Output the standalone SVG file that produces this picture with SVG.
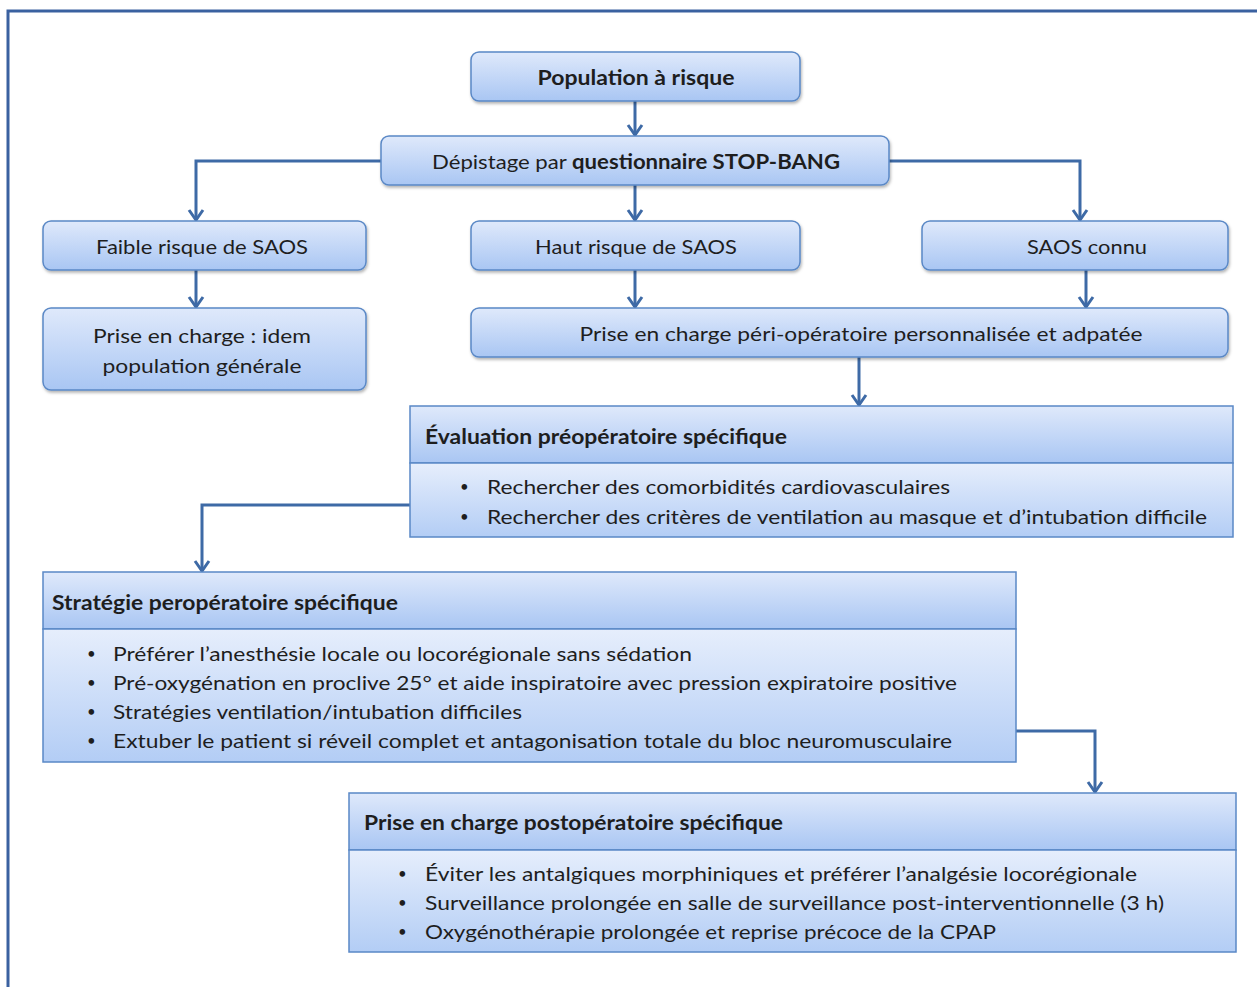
<svg xmlns="http://www.w3.org/2000/svg" width="1257" height="987" viewBox="0 0 1257 987">
<style>
.bg{fill:#ffffff}
.frame{fill:none;stroke:#3a61a0;stroke-width:3}
.rbox{fill:url(#g1);stroke:#5a88c6;stroke-width:1.5;filter:url(#sh)}
.hdr{fill:url(#g1);stroke:#5a88c6;stroke-width:1.5}
.bdy{fill:url(#g2);stroke:#5a88c6;stroke-width:1.5}
.t{font-family:Lato,"Liberation Sans",sans-serif;font-size:20px;fill:#1e1e1e}
.b{font-weight:bold}
.c{text-anchor:middle}
.bul{font-family:Lato,"Liberation Sans",sans-serif;font-size:15px;fill:#1e1e1e}
.conn path{fill:none;stroke:#3e6aa6;stroke-width:3;marker-end:url(#arr)}
</style>
<defs>
<linearGradient id="g1" x1="0" y1="0" x2="0" y2="1">
<stop offset="0" stop-color="#dfe9fb"/>
<stop offset="1" stop-color="#a9c6f3"/>
</linearGradient>
<linearGradient id="g2" x1="0" y1="0" x2="0" y2="1">
<stop offset="0" stop-color="#e6eefc"/>
<stop offset="1" stop-color="#b3cdf5"/>
</linearGradient>
<filter id="sh" x="-5%" y="-20%" width="110%" height="150%">
<feDropShadow dx="1" dy="2" stdDeviation="1.5" flood-color="#000" flood-opacity="0.3"/>
</filter>
<marker id="arr" markerUnits="userSpaceOnUse" viewBox="-2 -2 14 18" markerWidth="14" markerHeight="18" refX="10" refY="7" orient="auto">
<path d="M0,0 L10,7 L0,14" fill="none" stroke="#3e6aa6" stroke-width="3"/>
</marker>
</defs>
<rect class="bg" x="0" y="0" width="1257" height="987"/>
<rect class="frame" x="8" y="11" width="1262" height="990"/>

<g id="connectors" class="conn">
<path d="M635,101 V135"/>
<path d="M381,161 H196 V220"/>
<path d="M635,185 V220"/>
<path d="M889,161 H1080 V220"/>
<path d="M196,270 V307"/>
<path d="M635,270 V307"/>
<path d="M1086,270 V307"/>
<path d="M859,357 V405"/>
<path d="M410,505 H202 V571"/>
<path d="M1016,731 H1095 V792"/>
</g>

<g id="population">
<rect class="rbox" x="471" y="52" width="329" height="49" rx="8"/>
<text class="t b c" x="636" y="77" dominant-baseline="central" textLength="197" lengthAdjust="spacingAndGlyphs">Population à risque</text>
</g>
<g id="depistage">
<rect class="rbox" x="381" y="136" width="508" height="49" rx="8"/>
<text class="t" x="432" y="161" dominant-baseline="central" textLength="408" lengthAdjust="spacingAndGlyphs">Dépistage par <tspan class="b">questionnaire STOP-BANG</tspan></text>
</g>
<g id="faible">
<rect class="rbox" x="43" y="221" width="323" height="49" rx="8"/>
<text class="t c" x="202" y="246" dominant-baseline="central" textLength="212" lengthAdjust="spacingAndGlyphs">Faible risque de SAOS</text>
</g>
<g id="haut">
<rect class="rbox" x="471" y="221" width="329" height="49" rx="8"/>
<text class="t c" x="636" y="246" dominant-baseline="central" textLength="202" lengthAdjust="spacingAndGlyphs">Haut risque de SAOS</text>
</g>
<g id="connu">
<rect class="rbox" x="922" y="221" width="306" height="49" rx="8"/>
<text class="t c" x="1087" y="246" dominant-baseline="central" textLength="120" lengthAdjust="spacingAndGlyphs">SAOS connu</text>
</g>
<g id="idem">
<rect class="rbox" x="43" y="308" width="323" height="82" rx="8"/>
<text class="t c" x="202" y="335" dominant-baseline="central" textLength="218" lengthAdjust="spacingAndGlyphs">Prise en charge : idem</text>
<text class="t c" x="202" y="365" dominant-baseline="central" textLength="199" lengthAdjust="spacingAndGlyphs">population générale</text>
</g>
<g id="pec">
<rect class="rbox" x="471" y="308" width="757" height="49" rx="8"/>
<text class="t c" x="861" y="333" dominant-baseline="central" textLength="563" lengthAdjust="spacingAndGlyphs">Prise en charge péri-opératoire personnalisée et adpatée</text>
</g>

<g id="evaluation">
<rect class="hdr" x="410" y="406" width="823" height="57"/>
<rect class="bdy" x="410" y="463" width="823" height="74"/>
<text class="t b" x="425" y="436" dominant-baseline="central" textLength="362" lengthAdjust="spacingAndGlyphs">Évaluation préopératoire spécifique</text>
<text class="bul" x="460" y="486" dominant-baseline="central">•</text>
<text class="t" x="487" y="486" dominant-baseline="central" textLength="463" lengthAdjust="spacingAndGlyphs">Rechercher des comorbidités cardiovasculaires</text>
<text class="bul" x="460" y="516" dominant-baseline="central">•</text>
<text class="t" x="487" y="516" dominant-baseline="central" textLength="720" lengthAdjust="spacingAndGlyphs">Rechercher des critères de ventilation au masque et d’intubation difficile</text>
</g>

<g id="strategie">
<rect class="hdr" x="43" y="572" width="973" height="57"/>
<rect class="bdy" x="43" y="629" width="973" height="133"/>
<text class="t b" x="52" y="602" dominant-baseline="central" textLength="346" lengthAdjust="spacingAndGlyphs">Stratégie peropératoire spécifique</text>
<text class="bul" x="87" y="653" dominant-baseline="central">•</text>
<text class="t" x="113" y="653" dominant-baseline="central" textLength="579" lengthAdjust="spacingAndGlyphs">Préférer l’anesthésie locale ou locorégionale sans sédation</text>
<text class="bul" x="87" y="682" dominant-baseline="central">•</text>
<text class="t" x="113" y="682" dominant-baseline="central" textLength="844" lengthAdjust="spacingAndGlyphs">Pré-oxygénation en proclive 25° et aide inspiratoire avec pression expiratoire positive</text>
<text class="bul" x="87" y="711" dominant-baseline="central">•</text>
<text class="t" x="113" y="711" dominant-baseline="central" textLength="409" lengthAdjust="spacingAndGlyphs">Stratégies ventilation/intubation difficiles</text>
<text class="bul" x="87" y="740" dominant-baseline="central">•</text>
<text class="t" x="113" y="740" dominant-baseline="central" textLength="839" lengthAdjust="spacingAndGlyphs">Extuber le patient si réveil complet et antagonisation totale du bloc neuromusculaire</text>
</g>

<g id="postop">
<rect class="hdr" x="349" y="793" width="887" height="57"/>
<rect class="bdy" x="349" y="850" width="887" height="102"/>
<text class="t b" x="364" y="822" dominant-baseline="central" textLength="419" lengthAdjust="spacingAndGlyphs">Prise en charge postopératoire spécifique</text>
<text class="bul" x="398" y="873" dominant-baseline="central">•</text>
<text class="t" x="425" y="873" dominant-baseline="central" textLength="712" lengthAdjust="spacingAndGlyphs">Éviter les antalgiques morphiniques et préférer l’analgésie locorégionale</text>
<text class="bul" x="398" y="902" dominant-baseline="central">•</text>
<text class="t" x="425" y="902" dominant-baseline="central" textLength="739" lengthAdjust="spacingAndGlyphs">Surveillance prolongée en salle de surveillance post-interventionnelle (3 h)</text>
<text class="bul" x="398" y="931" dominant-baseline="central">•</text>
<text class="t" x="425" y="931" dominant-baseline="central" textLength="571" lengthAdjust="spacingAndGlyphs">Oxygénothérapie prolongée et reprise précoce de la CPAP</text>
</g>
</svg>
